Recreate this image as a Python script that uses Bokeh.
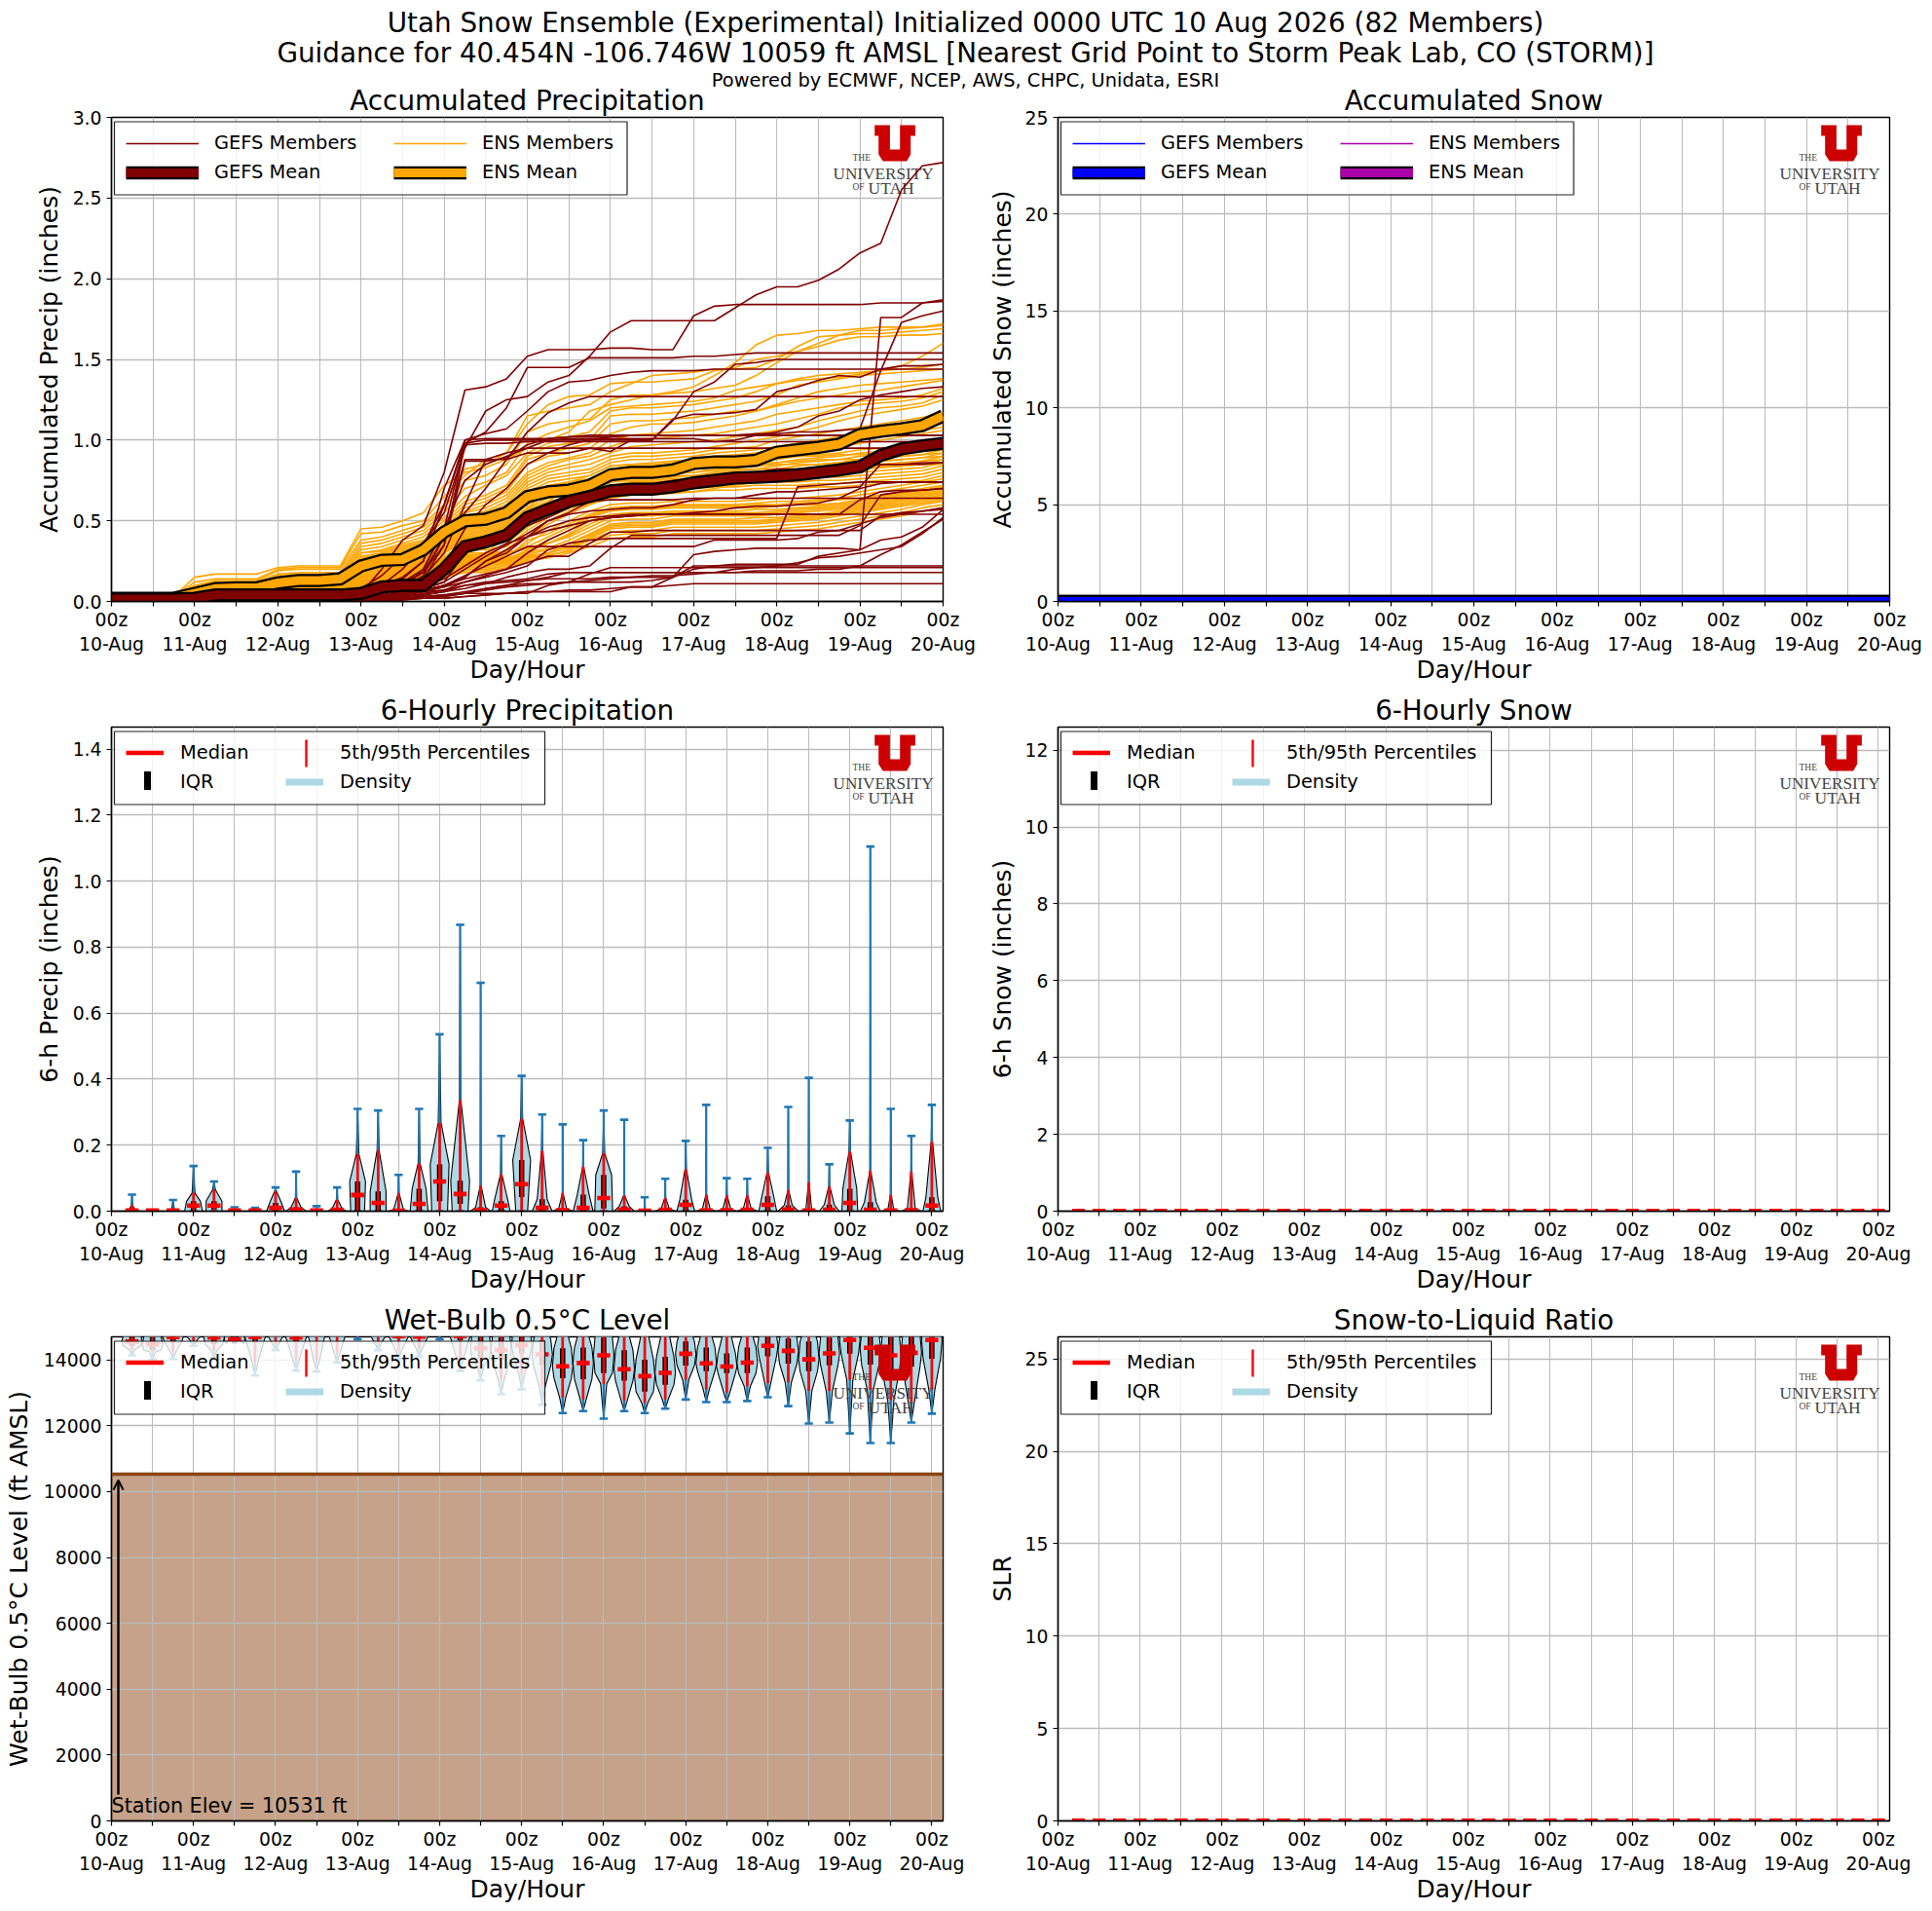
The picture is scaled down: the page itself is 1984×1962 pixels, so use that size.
from bokeh.embed import file_html
from bokeh.resources import INLINE
from bokeh.layouts import column, row
from bokeh.plotting import figure
from bokeh.models import (Range1d, FixedTicker, PrintfTickFormatter, Label, Legend, LegendItem,
                          BoxAnnotation, PolyAnnotation, Span, Arrow, OpenHead)

# ---------------- data ----------------
hours = list(range(0, 241, 6))
violin_hours = hours[1:]
tick_hours = list(range(0, 241, 12))
day_names = ["10-Aug","11-Aug","12-Aug","13-Aug","14-Aug","15-Aug","16-Aug","17-Aug","18-Aug","19-Aug","20-Aug"]

gefs_mean = [.015,.015,.015,.015,.02,.04,.04,.04,.04,.04,.04, .04,.05,.09,.10,.10,.20,.34,.37,.41,.52, .57,.62,.65,.685,.695,.695,.71,.735,.75,.765, .77,.775,.785,.80,.815,.835,.905,.945,.965,.98]
ens_mean = [.02,.02,.02,.02,.05,.08,.085,.085,.115,.13,.13, .14,.22,.255,.26,.32,.43,.50,.51,.55,.65, .68,.69,.72,.785,.80,.80,.815,.855,.865,.865, .875,.925,.94,.955,.975,1.035,1.055,1.07,1.09,1.15]

gefs_members = [
[0,0,0,0,0,1,1,1,1,1,1, 3,8,16,28,35,55,95,118,125,127, 136,140,152,167,174,174,174,174,174,182, 190,195,195,199,206,216,222,255,270,272],
[0,0,0,0,1,1,1,1,2,2,2, 3,5,20,38,47,80,131,133,138,152, 156,156,156,157,157,156,156,177,183,184, 184,184,184,184,184,184,185,185,185,186],
[0,0,0,0,1,1,1,1,1,1,1, 1,2,2,3,4,6,10,11,12,13, 14,14,14,15,15,15,15,29,31,32, 33,33,33,33,33,32,176,176,185,187],
[0,0,0,0,0,1,1,1,1,1,2, 2,3,4,6,10,22,45,60,70,85, 92,97,100,102,103,103,103,103,103,103, 104,104,105,105,106,107,143,173,177,180],
[0,0,0,0,1,2,2,2,2,2,2, 3,5,10,20,35,60,98,105,120,145, 145,145,151,151,151,151,151,152,152,153, 154,154,154,154,154,154,154,154,154,154],
[1,1,1,1,2,3,3,3,3,3,3, 3,4,5,8,20,45,98,100,100,100, 100,100,100,100,100,100,112,130,136,147, 148,150,150,150,150,150,150,150,150,150],
[0,0,0,0,1,1,1,1,1,1,2, 2,3,6,10,15,30,60,88,88,92, 92,92,95,93,100,100,113,116,116,117, 119,130,133,137,140,139,144,146,146,147],
[0,0,0,0,1,2,2,2,3,3,3, 4,6,8,14,25,70,100,104,107,118, 130,136,137,140,142,143,143,143,144,144, 144,144,144,144,144,144,144,144,144,144],
[0,0,0,0,0,1,1,1,1,1,1, 2,4,8,12,20,45,75,85,90,95, 100,101,101,101,101,101,101,101,99,100, 103,105,108,115,118,125,128,130,132,133],
[0,0,0,0,1,2,2,2,2,2,2, 3,5,7,12,18,40,55,70,88,105, 117,123,127,127,127,127,127,127,127,127, 127,127,127,127,127,127,127,127,127,127],
[1,1,1,1,2,3,3,3,3,3,3, 4,6,10,15,25,60,100,101,101,101, 101,102,102,102,103,103,103,103,103,103, 103,103,103,103,103,103,103,103,103,103],
[1,1,1,1,2,3,3,3,3,3,3, 3,4,6,10,18,35,97,98,98,99, 99,99,99,99,99,99,99,99,99,99, 99,99,99,99,99,99,99,99,99,99],
[0,0,0,0,1,1,1,1,1,1,1, 2,3,5,9,16,40,88,88,92,95, 95,95,95,95,95,95,95,95,95,95, 95,95,95,95,95,95,95,95,95,95],
[0,0,0,0,1,1,1,1,2,2,2, 2,3,4,6,9,14,22,30,36,40, 44,47,50,52,53,54,54,55,56,58, 59,59,60,61,64,70,73,74,74,74],
[0,0,0,0,0,1,1,1,1,1,1, 1,2,3,4,6,9,12,15,18,22, 32,36,38,39,39,39,39,39,39,39, 39,39,71,72,73,74,74,74,74,74],
[0,0,0,0,1,1,1,1,1,1,1, 2,2,3,4,6,10,15,25,32,40, 46,50,52,53,54,54,54,54,54,54, 54,54,54,54,54,63,68,69,69,70],
[0,0,0,0,1,2,2,2,2,2,2, 2,3,4,5,8,12,20,28,35,42, 50,54,56,57,58,58,60,63,64,64, 64,64,64,64,64,64,64,64,64,64],
[0,0,0,0,0,0,0,0,1,1,1, 1,2,3,5,7,10,14,17,20,30, 38,44,50,52,53,54,54,54,54,54, 54,54,54,54,54,54,54,54,54,54],
[0,0,0,0,0,1,1,1,1,1,1, 1,2,2,3,5,7,12,16,20,24, 28,28,36,43,43,44,44,44,44,44, 44,44,44,44,44,48,52,54,56,58],
[0,0,0,0,0,0,0,1,1,1,1, 1,1,2,2,3,3,5,8,10,13, 15,18,18,18,18,18,18,18,18,18, 19,19,19,20,20,22,29,35,43,51],
[0,0,0,0,0,0,0,0,0,0,0, 0,1,1,1,2,2,3,4,5,6, 6,6,6,6,9,9,15,20,22,23, 23,23,23,28,30,32,38,40,46,57],
[0,0,0,0,0,0,0,0,0,0,1, 1,1,2,2,3,4,5,5,5,5, 10,12,17,21,21,21,21,21,21,21, 21,21,21,21,21,21,21,21,21,21],
[0,0,0,0,0,1,1,1,1,1,1, 1,2,3,4,6,7,10,12,13,14, 17,18,18,18,18,18,18,18,18,18, 18,18,18,18,18,18,18,18,18,18],
[0,0,0,0,0,0,0,0,0,0,0, 0,0,1,1,2,2,3,4,5,6, 6,7,7,8,9,9,10,11,11,11, 11,11,11,11,11,11,11,11,11,11],
[0,0,0,0,0,0,0,0,0,1,1, 1,1,1,2,3,4,6,8,10,11, 11,12,12,12,12,13,15,22,22,22, 22,22,22,22,22,22,22,22,22,22],
[0,0,0,0,0,0,0,0,0,0,0, 1,1,1,2,2,3,5,7,9,10, 11,12,13,14,15,16,16,17,18,20, 21,22,24,27,28,30,32,34,42,52],
[0,0,0,0,0,1,1,1,1,1,1, 1,2,3,5,7,10,16,22,28,34, 34,34,34,34,34,34,34,34,38,38, 38,38,39,43,44,44,53,55,56,57],
[0,0,0,0,0,0,0,0,0,0,1, 1,1,2,3,4,6,8,11,15,18, 20,20,22,33,41,41,41,41,41,41, 41,41,41,41,41,47,66,68,69,70],
[0,0,0,0,0,1,1,1,1,1,1, 2,3,4,6,8,12,30,37,42,47, 52,58,65,72,73,73,75,76,77,78, 80,82,82,82,83,84,85,85,86,86],
[0,0,0,0,1,2,2,2,2,2,2, 3,4,6,9,14,35,87,87,89,97, 101,102,103,103,103,103,103,103,103,103, 103,103,103,103,103,103,103,103,103,103],
[0,0,0,0,0,0,1,1,1,1,1, 1,2,3,4,6,9,15,25,30,40, 50,55,62,63,63,63,63,64,64,64, 66,68,68,69,70,71,85,85,85,86],
]
ens_members = [
[3,3,3,3,15,17,17,17,21,22,22, 22,45,46,50,55,72,80,83,88,95, 100,105,118,122,125,128,130,133,140,148, 159,165,166,168,168,169,170,170,170,172],
[3,3,3,3,12,14,14,14,20,21,21, 21,42,43,47,50,65,78,88,92,110, 122,127,128,135,136,136,137,138,143,145, 150,152,155,160,165,168,168,169,170,171],
[3,3,3,3,10,13,13,13,19,20,20, 20,38,40,44,48,60,82,85,92,115, 118,120,122,130,135,140,141,142,144,144, 145,150,158,164,165,166,166,167,168,169],
[3,3,3,3,9,12,12,12,17,18,18, 18,36,38,42,46,58,75,78,85,105, 110,112,113,125,128,128,129,130,132,134, 140,148,155,158,162,164,164,165,165,166],
[3,3,3,3,8,11,11,11,16,17,17, 17,34,36,40,44,55,70,74,80,98, 104,108,112,120,121,122,123,124,126,131, 133,135,137,138,139,141,143,146,152,160],
[3,3,3,3,8,10,10,10,15,16,16, 16,32,34,38,42,52,65,72,78,92, 98,102,105,118,120,120,121,122,124,126, 130,135,138,140,141,142,143,144,145,147],
[3,3,3,3,7,10,10,10,14,15,15, 15,30,32,36,40,50,62,66,72,90, 96,98,100,115,116,116,117,118,120,122, 124,128,134,136,138,140,141,142,143,144],
[3,3,3,3,7,9,9,9,14,15,15, 15,30,31,35,38,48,60,64,70,88, 92,95,98,110,112,112,113,114,116,118, 118,122,126,130,132,134,135,136,137,138],
[3,3,3,3,7,9,9,9,13,14,14, 14,28,30,34,37,46,58,62,68,85, 90,92,95,104,108,110,110,111,113,115, 118,121,124,126,128,130,131,133,135,137],
[3,3,3,3,6,9,9,9,13,14,14, 14,27,29,33,36,45,56,60,66,80, 86,89,92,100,103,104,105,106,108,110, 112,116,118,120,122,124,125,126,128,132],
[3,3,3,3,6,8,8,8,12,13,13, 13,26,28,32,35,44,55,58,64,78, 84,88,90,96,100,101,102,103,104,106, 108,110,113,116,120,122,123,124,126,130],
[3,3,3,3,6,8,8,8,12,13,13, 13,25,27,31,34,43,53,56,62,76, 82,85,88,92,96,97,98,99,100,102, 104,106,108,112,115,118,120,121,123,128],
[3,3,3,3,6,8,8,8,11,12,12, 12,24,26,30,33,42,52,55,60,74, 80,83,85,90,92,92,93,94,96,98, 100,102,105,108,112,115,117,119,121,125],
[3,3,3,3,5,7,7,7,11,12,12, 12,23,25,29,32,41,50,53,58,72, 78,80,82,88,90,90,91,92,94,95, 96,100,102,104,106,108,110,112,114,117],
[3,3,3,3,5,7,7,7,10,11,11, 11,22,24,28,31,40,48,52,56,70, 76,78,80,86,88,88,89,90,92,93, 94,96,98,100,102,105,107,108,110,112],
[3,3,3,3,5,7,7,7,10,11,11, 11,21,23,27,30,39,47,50,54,68, 74,76,78,84,85,86,87,88,90,91, 92,94,96,98,100,103,105,106,108,110],
[3,3,3,3,5,6,6,6,10,11,11, 11,20,22,26,29,38,46,49,53,66, 72,74,76,82,84,84,85,86,88,89, 90,92,94,96,98,100,102,104,106,108],
[3,3,3,3,5,6,6,6,9,10,10, 10,20,22,25,28,37,45,48,52,64, 70,72,74,80,82,82,83,84,86,87, 88,90,92,94,96,98,100,102,104,106],
[3,3,3,3,4,6,6,6,9,10,10, 10,19,21,24,27,36,44,47,50,62, 68,70,72,78,80,80,81,82,84,85, 86,88,90,91,92,94,95,96,97,98],
[3,3,3,3,4,6,6,6,9,10,10, 10,18,20,24,27,35,43,46,49,60, 66,68,70,76,78,78,79,80,82,83, 84,86,88,89,90,92,93,94,95,96],
[3,3,3,3,4,6,6,6,8,9,9, 9,18,20,23,26,34,42,45,48,58, 64,66,68,74,76,76,77,78,80,81, 82,84,86,87,88,90,91,92,93,94],
[3,3,3,3,4,5,5,5,8,9,9, 9,17,19,23,26,33,41,44,47,57, 62,64,66,72,74,74,75,76,78,79, 80,82,84,85,86,88,89,90,91,92],
[3,3,3,3,4,5,5,5,8,9,9, 9,16,18,22,25,32,40,43,46,56, 60,62,64,70,72,72,73,74,76,77, 78,80,82,83,84,86,87,88,89,90],
[3,3,3,3,4,5,5,5,8,8,8, 8,16,18,22,25,31,39,42,45,55, 58,60,62,68,70,70,71,72,74,75, 76,78,80,81,82,84,85,86,87,88],
[3,3,3,3,4,5,5,5,7,8,8, 8,15,17,21,24,30,38,41,44,54, 57,59,61,66,68,68,69,70,72,73, 74,76,78,80,81,83,84,85,85,86],
[3,3,3,3,4,5,5,5,7,8,8, 8,15,17,21,24,30,37,40,43,52, 56,58,60,64,66,66,67,68,70,72, 74,76,78,79,80,82,83,84,85,85],
[2,2,2,3,4,4,4,4,7,7,7, 7,14,16,20,23,28,36,38,48,62, 70,74,78,84,85,85,86,86,87,88, 88,89,90,90,91,91,92,92,93,96],
[2,2,2,3,3,4,4,4,6,7,7, 7,13,15,19,22,27,30,33,44,58, 68,72,76,82,83,83,84,84,85,85, 86,86,87,88,88,88,89,90,91,94],
[2,2,2,3,3,4,4,4,6,7,7, 7,13,15,19,22,26,38,40,46,54, 62,70,74,80,81,81,82,82,83,84, 84,85,85,85,86,87,87,88,89,92],
[2,2,2,3,3,4,4,4,6,6,6, 6,12,14,18,21,26,35,36,42,52, 60,66,72,78,79,79,80,80,81,82, 82,82,82,83,84,84,85,86,87,90],
[2,2,2,3,3,4,4,4,6,6,6, 6,12,14,18,21,25,28,30,40,50, 58,64,70,76,77,77,78,78,79,80, 80,80,81,81,81,82,83,84,85,88],
[2,2,2,3,3,4,4,4,5,6,6, 6,12,13,17,20,25,33,33,38,48, 56,62,68,74,75,75,76,76,77,77, 78,78,79,79,80,80,81,82,83,86],
[2,2,2,3,3,4,4,4,5,6,6, 6,11,13,17,20,24,27,28,36,46, 54,60,66,72,73,73,74,74,75,75, 76,76,76,77,77,78,79,80,81,84],
[2,2,2,3,3,3,3,3,5,5,5, 5,11,13,16,19,24,32,32,34,44, 52,58,64,70,71,71,72,72,73,73, 74,74,74,75,75,76,77,78,79,82],
[2,2,2,3,3,3,3,3,5,5,5, 5,11,12,16,19,23,26,27,32,42, 50,56,62,68,69,69,70,70,71,71, 72,72,72,73,73,74,75,76,77,80],
[2,2,2,2,3,3,3,3,5,5,5, 5,10,12,15,18,23,30,30,31,40, 48,54,60,66,67,67,68,68,69,69, 70,70,70,71,71,72,73,74,75,78],
[2,2,2,2,3,3,3,3,4,5,5, 5,10,12,15,18,22,25,26,28,36, 44,50,56,60,61,61,62,62,62,62, 63,64,64,65,66,68,70,72,74,76],
[2,2,2,2,3,3,3,3,4,5,5, 5,10,11,15,17,22,24,25,27,38, 42,48,54,58,59,59,60,60,60,60, 61,62,62,63,64,66,68,70,72,74],
[2,2,2,2,3,3,3,3,4,4,4, 4,9,11,14,17,21,29,29,30,34, 40,46,53,57,58,58,59,59,59,59, 60,60,61,62,63,64,66,68,70,72],
[2,2,2,2,3,3,3,3,4,4,4, 4,9,11,14,16,21,24,24,26,32, 38,44,52,56,57,57,58,58,58,58, 58,59,60,60,61,63,65,67,69,71],
[2,2,2,2,2,3,3,3,4,4,4, 4,9,10,13,16,20,23,23,25,31, 36,42,50,54,55,55,56,56,56,56, 57,57,58,59,60,62,64,66,68,70],
[2,2,2,2,2,3,3,3,4,4,4, 4,8,10,13,15,20,28,28,29,33, 36,41,48,53,54,54,55,55,55,55, 55,56,57,58,59,61,63,65,67,69],
[2,2,2,2,2,3,3,3,3,4,4, 4,8,10,13,15,19,22,22,24,30, 36,40,46,52,53,53,54,54,54,54, 54,55,56,57,58,60,62,64,66,68],
[2,2,2,2,2,3,3,3,3,4,4, 4,8,9,12,14,19,27,27,27,30, 33,38,44,50,51,51,53,53,53,53, 53,54,55,56,57,59,61,63,65,67],
[2,2,2,2,2,2,2,2,3,3,3, 3,7,9,12,14,18,21,21,23,28, 30,36,42,48,49,49,51,51,51,51, 52,52,53,54,56,58,60,62,64,66],
[2,2,2,2,2,2,2,2,3,3,3, 3,7,9,12,14,18,26,26,26,29, 32,36,41,47,48,48,50,50,50,50, 50,51,52,53,55,57,59,61,63,65],
[2,2,2,2,2,2,2,2,3,3,3, 3,7,8,11,13,17,20,20,22,27, 30,34,40,46,47,47,49,49,49,49, 49,50,51,52,54,56,58,60,62,64],
[2,2,2,2,2,2,2,2,3,3,3, 3,6,8,11,13,17,25,25,25,28, 30,33,39,45,46,46,48,48,48,48, 48,49,50,51,53,55,57,59,61,63],
[2,2,2,2,2,2,2,2,2,3,3, 3,6,8,11,13,16,19,19,21,26, 28,32,38,43,44,44,46,46,46,46, 46,47,48,49,51,53,55,57,60,62],
[1,1,2,2,2,2,2,2,2,3,3, 3,6,7,10,12,16,24,24,24,27, 29,31,36,41,42,42,44,44,44,44, 44,45,46,47,49,51,53,55,58,60],
[1,1,2,2,2,2,2,2,2,3,3, 3,5,7,9,11,15,18,18,20,25, 27,30,34,39,40,40,42,42,42,42, 42,43,44,45,47,49,51,53,56,58],
]

prec_max = [.05,.003,.034,.137,.09,.012,.01,.072,.12,.015,.072,.31,.305,.11,.31,.536,.868,.692,.228,.41,.293,.263,.215,.305,.277,.042,.098,.213,.322,.10,.098,.192,.316,.404,.142,.275,1.105,.31,.228,.322]
prec_median = [.002,.002,.002,.017,.017,.002,.002,.01,.005,.002,.004,.049,.025,.001,.022,.09,.052,.003,.017,.082,.01,.003,.01,.04,.005,.001,.004,.019,.002,.003,.004,.019,.005,.002,.004,.025,.004,.002,.003,.017]
prec_q1 = [0,0,0,0,.005,0,0,0,0,0,0,0,0,0,0,.03,.022,0,0,.043,0,0,0,.008,0,0,0,0,0,0,0,0,0,0,0,0,0,0,0,0]
prec_q3 = [.004,.003,.003,.03,.03,.003,.003,.025,.012,.003,.008,.09,.06,.004,.068,.142,.092,.012,.03,.155,.036,.008,.05,.11,.015,.002,.008,.035,.006,.006,.008,.045,.018,.003,.02,.068,.027,.004,.008,.042]
prec_p95 = [.018,.003,.004,.055,.065,.005,.005,.06,.04,.004,.035,.173,.185,.055,.145,.268,.338,.078,.112,.28,.183,.055,.135,.175,.048,.004,.04,.127,.05,.048,.048,.117,.064,.088,.075,.18,.123,.05,.12,.21]
prec_base_width = [.8,.6,.6,.9,.8,.6,.6,.9,1,.5,.9,.7,.8,1,.9,.8,.8,1,.9,.6,1,1,1,.9,1,.6,1,.9,1,1,1,.9,1,1,1,.8,1,1,1,.9]
prec_q3_width = [.3,.4,.4,.7,.8,.4,.4,.6,.5,.3,.5,.8,.8,.5,.7,.95,.95,.5,.7,.9,.5,.4,.6,.8,.5,.3,.4,.6,.4,.4,.4,.6,.4,.3,.5,.7,.6,.3,.4,.6]
prec_p95_width = [.07,.15,.15,.14,.14,.07,.07,.1,.07,.07,.07,.13,.1,.04,.1,.14,.07,.04,.07,.1,.07,.03,.05,.1,.04,.07,.05,.07,.03,.04,.04,.07,.04,.03,.05,.08,.04,.04,.04,.07]

wb_min = [14140,14010,14040,14430,14060,14630,13530,14300,13680,13650,13920,14630,14300,14040,14100,14630,13670,13380,12960,13110,12640,12390,12450,12220,12450,12390,12520,12800,12720,12720,12755,12870,12600,12070,12100,11770,11480,11480,12100,12370]
wb_p5 = [14320,14250,14260,14580,14300,14720,13950,14480,14000,14000,14220,14800,14500,14300,14350,14800,14000,13800,13400,13600,13200,12860,12810,13280,12770,12700,12810,13400,13110,13010,13200,13300,13320,13060,13060,13400,13100,12770,12720,13110]
wb_q1 = [14430,14300,14560,14800,14480,14500,14550,14800,14550,14800,14800,14820,14800,14650,14700,14800,14600,14050,14000,14200,13850,13450,13420,13600,13370,13040,13250,13830,13660,13600,13600,14110,13890,13660,13840,14190,13860,13700,13800,14040]
wb_median = [14560,14480,14700,14900,14680,14630,14700,14950,14680,14950,14950,14950,14950,14730,14710,14950,14730,14360,14300,14450,14170,13810,13910,14140,13720,13510,13610,14190,13900,13800,13920,14430,14280,14020,14200,14610,14370,14140,14220,14610]
wb_q3 = [14750,14700,14950,15200,14950,14900,14950,15200,14950,15200,15200,15300,15200,15000,15000,15200,15000,14750,14700,14850,14600,14360,14380,14680,14300,14010,14100,14560,14380,14200,14380,14750,14650,14560,14680,14950,14800,14700,14760,14950]
wb_p95 = [15300,15250,15500,15700,15400,15300,15500,15700,15400,15700,15700,15800,15700,15500,15500,15700,15500,15300,15300,15400,15200,15000,15000,15200,14950,14850,14900,15100,15000,14900,15000,15300,15200,15100,15200,15500,15400,15200,15300,15500]
wb_max = [15600,15500,15800,16000,15700,15600,15800,16000,15700,16000,16000,16100,16000,15800,15800,16000,15800,15600,15600,15700,15500,15300,15300,15500,15300,15200,15200,15400,15300,15200,15300,15600,15500,15400,15500,15800,15700,15500,15600,15800]
wb_widths = [0, .3, .85, 1, .85, .3, 0]
station_elev = 10531

snow_gefs_mean = [0.0] * len(hours)
snow_ens_mean = [0.0] * len(hours)
snow6h_median = [0.0] * len(violin_hours)
slr_median = [0.0] * len(violin_hours)

title1 = "Utah Snow Ensemble (Experimental) Initialized 0000 UTC 10 Aug 2026 (82 Members)"
title2 = "Guidance for 40.454N -106.746W 10059 ft AMSL [Nearest Grid Point to Storm Peak Lab, CO (STORM)]"
title3 = "Powered by ECMWF, NCEP, AWS, CHPC, Unidata, ESRI"

for m in gefs_members + ens_members:
    assert len(m) == len(hours), m

# ---------------- style ----------------
FONT = "DejaVu Sans"
FW, FH = 854, 497
L_LEFT, L_RIGHT = 114, 40
R_LEFT, R_RIGHT = 78, 36
TOP, BOTTOM = 36, 93
GRID = "#bcbcbc"
XMAX_V = 243.3
MAROON, ORANGE, BLUE, MAGENTA = "#800000", "#ffa500", "#0000ff", "#aa00aa"
TAB_BLUE = "#1f77b4"

tick_labels = {}
for h in tick_hours:
    tick_labels[h] = f"00z\n{day_names[h // 24]}" if h % 24 == 0 else ""


def base_fig(title, ylabel, xmax, ymax, yticks, fmt, left, right, bottom=BOTTOM, ystandoff=6):
    p = figure(frame_width=FW, frame_height=FH, output_backend="svg", toolbar_location=None,
               x_range=Range1d(0, xmax), y_range=Range1d(0, ymax),
               min_border_left=left, min_border_right=right, min_border_top=TOP, min_border_bottom=bottom,
               background_fill_color="white", border_fill_color=None,
               x_axis_label="Day/Hour", y_axis_label=ylabel)
    p.title.text = title
    p.title.align = "center"
    p.title.text_font = FONT
    p.title.text_font_size = "27.8px"
    p.title.text_font_style = "normal"
    p.title.text_color = "black"
    p.title.standoff = 1
    p.title.offset = 0
    p.outline_line_color = "black"
    p.outline_line_width = 1.4
    p.outline_line_alpha = 1
    for ax in (p.xaxis[0], p.yaxis[0]):
        ax.axis_line_color = "black"
        ax.axis_line_width = 1.4
        ax.major_tick_line_color = "black"
        ax.major_tick_line_width = 1.2
        ax.major_tick_in = 0
        ax.major_tick_out = 5
        ax.minor_tick_line_color = None
        ax.major_label_text_font = FONT
        ax.major_label_text_font_size = "18.8px"
        ax.major_label_text_color = "black"
        ax.axis_label_text_font = FONT
        ax.axis_label_text_font_size = "25px"
        ax.axis_label_text_font_style = "normal"
        ax.axis_label_text_color = "black"
    p.xaxis[0].ticker = FixedTicker(ticks=tick_hours)
    p.xaxis[0].major_label_overrides = tick_labels
    p.xaxis[0].major_label_standoff = 3
    p.xaxis[0].major_label_text_line_height = 1.2
    p.xaxis[0].axis_label_standoff = -2
    p.yaxis[0].ticker = FixedTicker(ticks=yticks)
    p.yaxis[0].formatter = PrintfTickFormatter(format=fmt)
    p.yaxis[0].major_label_standoff = 5
    p.yaxis[0].axis_label_standoff = ystandoff
    p.xgrid[0].ticker = FixedTicker(ticks=tick_hours)
    p.ygrid[0].ticker = FixedTicker(ticks=yticks)
    p.xgrid[0].grid_line_color = GRID
    p.xgrid[0].grid_line_width = 1.1
    p.ygrid[0].grid_line_color = GRID
    p.ygrid[0].grid_line_width = 1.3
    return p


def sbox(p, l, r, t, b, **kw):
    p.add_layout(BoxAnnotation(left=l, right=r, top=FH - t, bottom=FH - b, left_units="screen", right_units="screen",
                               top_units="screen", bottom_units="screen", editable=False, **kw))


def logo(p, level="annotation"):
    x0, y0 = 783.7, 8.0
    ux = [0, 15.7, 15.7, 26, 26, 41.7, 41.7, 37, 37, 33, 8.5, 4, 4, 0]
    uy = [0, 0, 25, 25, 0, 0, 11, 11, 30, 37, 37, 30, 11, 11]
    p.add_layout(PolyAnnotation(xs=[x0 + v for v in ux], ys=[FH - y0 - v for v in uy], xs_units="screen", ys_units="screen",
                                fill_color="#cc0000", fill_alpha=1, line_color=None, editable=False, level=level))
    for text, x, y, size in (("THE", 761, 41, "9.5px"), ("UNIVERSITY", 741, 58, "17.2px"), ("OF", 761, 71, "9.5px"), ("UTAH", 777, 72, "17.5px")):
        p.add_layout(Label(x=x, y=FH - y, x_units="screen", y_units="screen", text=text, text_font="Liberation Serif",
                           text_font_size=size, text_color="#444444", text_baseline="middle", text_align="left", level=level))


def accum_legend(p, members1, members2, mean1, mean2, name1, name2, right):
    sbox(p, 3, right, 4.5, 79.5, fill_color="white", fill_alpha=.8, line_color="#222222", line_alpha=1, line_width=1.2)
    lg = Legend(items=[LegendItem(label=f"{name1} Members", renderers=[members1]),
                       LegendItem(label=f"{name1} Mean", renderers=mean1),
                       LegendItem(label=f"{name2} Members", renderers=[members2]),
                       LegendItem(label=f"{name2} Mean", renderers=mean2)],
                location="top_left", ncols=2, margin=15, padding=0, spacing=7, glyph_width=75, glyph_height=22,
                label_height=22, label_width=177, label_standoff=16, label_text_font=FONT, label_text_font_size="19.4px",
                label_text_color="black", background_fill_alpha=0, border_line_color=None)
    p.add_layout(lg)


def violin_legend(p):
    sbox(p, 3, 445, 4.5, 79.5, fill_color="white", fill_alpha=.8, line_color="#222222", line_alpha=1, line_width=1.2)
    nan = [float("nan"), float("nan")]
    med = p.line(nan, nan, line_color="red", line_width=4.5)
    iqr = p.line(nan, nan, line_alpha=0)
    pct = p.line(nan, nan, line_alpha=0)
    den = p.line(nan, nan, line_color="lightblue", line_width=7)
    lg = Legend(items=[LegendItem(label="Median", renderers=[med]), LegendItem(label="IQR", renderers=[iqr]),
                       LegendItem(label="5th/95th Percentiles", renderers=[pct]), LegendItem(label="Density", renderers=[den])],
                location="top_left", ncols=2, margin=15, padding=0, spacing=7, glyph_width=39, glyph_height=21,
                label_height=21, label_width=101, label_standoff=17, label_text_font=FONT, label_text_font_size="19.4px",
                label_text_color="black", background_fill_alpha=0, border_line_color=None)
    p.add_layout(lg)
    sbox(p, 33.5, 40.5, 45.5, 64.5, fill_color="black", fill_alpha=1, line_color=None)
    sbox(p, 198.8, 201.2, 13, 41, fill_color="red", fill_alpha=1, line_color=None)


def draw_accum(p, members1, members2, mean1, mean2, c1, c2):
    r2 = None
    for m in members2:
        r2 = p.line(hours, m, line_color=c2, line_width=1.6)
    r1 = None
    for m in members1:
        r1 = p.line(hours, m, line_color=c1, line_width=1.6)
    b2 = p.line(hours, mean2, line_color="black", line_width=13.5, line_join="miter")
    f2 = p.line(hours, mean2, line_color=c2, line_width=9, line_join="miter")
    b1 = p.line(hours, mean1, line_color="black", line_width=13.5, line_join="miter")
    f1 = p.line(hours, mean1, line_color=c1, line_width=9, line_join="miter")
    return r1, r2, [b1, f1], [b2, f2]


def draw_violins(p, xs_h, lows, q1s, meds, q3s, p5s, p95s, highs, outlines):
    p.patches(outlines[0], outlines[1], fill_color="lightblue", fill_alpha=1, line_color="black", line_width=1.1)
    p.segment(xs_h, lows, xs_h, highs, line_color=TAB_BLUE, line_width=2.2)
    p.segment([h - 1.2 for h in xs_h], highs, [h + 1.2 for h in xs_h], highs, line_color=TAB_BLUE, line_width=2.6)
    p.segment([h - 1.2 for h in xs_h], lows, [h + 1.2 for h in xs_h], lows, line_color=TAB_BLUE, line_width=2.6)
    p.segment(xs_h, q1s, xs_h, q3s, line_color="black", line_width=5.5)
    p.segment(xs_h, p5s, xs_h, p95s, line_color="red", line_width=2.6)
    p.segment([h - 1.9 for h in xs_h], meds, [h + 1.9 for h in xs_h], meds, line_color="red", line_width=4.6)


def outline(levels, widths, half, h):
    left = [h - half * w for w in widths]
    right = [h + half * w for w in widths]
    return left + right[::-1], levels + levels[::-1]


# ---------------- header ----------------
HH = 94
header = figure(width=1976, height=HH, x_axis_location=None, y_axis_location=None, output_backend="svg", margin=(0, 0, -10, 0),
                toolbar_location=None, min_border=0, outline_line_color=None, x_range=Range1d(0, 1), y_range=Range1d(0, 1))
header.grid.visible = False
for text, y, size in ((title1, 23, "27.8px"), (title2, 54, "27.8px"), (title3, 82, "19.4px")):
    header.add_layout(Label(x=991, y=HH - y, x_units="screen", y_units="screen", text=text, text_font=FONT, text_font_size=size,
                            text_align="center", text_baseline="middle", text_color="black"))

# ---------------- panel 1 ----------------
p1 = base_fig("Accumulated Precipitation", "Accumulated Precip (inches)", 240, 3.0, [0, .5, 1, 1.5, 2, 2.5, 3], "%.1f", L_LEFT, L_RIGHT, ystandoff=7)
logo(p1, "underlay")
r1, r2, m1, m2 = draw_accum(p1, [[v / 100 for v in m] for m in gefs_members], [[v / 100 for v in m] for m in ens_members],
                            gefs_mean, ens_mean, MAROON, ORANGE)
accum_legend(p1, r1, r2, m1, m2, "GEFS", "ENS", 529.5)

# ---------------- panel 2 ----------------
p2 = base_fig("Accumulated Snow", "Accumulated Snow (inches)", 240, 25, [0, 5, 10, 15, 20, 25], "%d", R_LEFT, R_RIGHT)
logo(p2)
r1, r2, m1, m2 = draw_accum(p2, [snow_gefs_mean], [snow_ens_mean], snow_gefs_mean, snow_ens_mean, BLUE, MAGENTA)
accum_legend(p2, r1, r2, m1, m2, "GEFS", "ENS", 529.5)

# ---------------- panel 3 ----------------
p3 = base_fig("6-Hourly Precipitation", "6-h Precip (inches)", XMAX_V, 1.467, [0, .2, .4, .6, .8, 1, 1.2, 1.4], "%.1f", L_LEFT, L_RIGHT, ystandoff=7)
vx, vy = [], []
for i, h in enumerate(violin_hours):
    lv = sorted([0, prec_q3[i], prec_p95[i], prec_max[i]])
    a, b = outline(lv, [prec_base_width[i], prec_q3_width[i], prec_p95_width[i], 0], 2.9, h)
    vx.append(a)
    vy.append(b)
draw_violins(p3, violin_hours, [0] * 40, prec_q1, prec_median, prec_q3, [0] * 40, prec_p95, prec_max, (vx, vy))
violin_legend(p3)
logo(p3)

# ---------------- panel 4 ----------------
p4 = base_fig("6-Hourly Snow", "6-h Snow (inches)", XMAX_V, 12.6, [0, 2, 4, 6, 8, 10, 12], "%d", R_LEFT, R_RIGHT)
p4.segment([h - 1.9 for h in violin_hours], snow6h_median, [h + 1.9 for h in violin_hours], snow6h_median, line_color="red", line_width=5)
violin_legend(p4)
logo(p4)

# ---------------- panel 5 ----------------
p5 = base_fig("Wet-Bulb 0.5\u00b0C Level", "Wet-Bulb 0.5\u00b0C Level (ft AMSL)", XMAX_V, 14704, [0, 2000, 4000, 6000, 8000, 10000, 12000, 14000], "%d", L_LEFT, L_RIGHT, bottom=85, ystandoff=8)
p5.quad(left=[0], right=[XMAX_V], bottom=[0], top=[station_elev], fill_color="saddlebrown", fill_alpha=.5, line_color=None, level="image")
p5.add_layout(Span(location=station_elev, dimension="width", line_color="saddlebrown", line_width=3.4))
vx, vy = [], []
for i, h in enumerate(violin_hours):
    lv = [wb_min[i], wb_p5[i], wb_q1[i], wb_median[i], wb_q3[i], wb_p95[i], wb_max[i]]
    a, b = outline(lv, wb_widths, 3.0, h)
    vx.append(a)
    vy.append(b)
draw_violins(p5, violin_hours, wb_min, wb_q1, wb_median, wb_q3, wb_p5, wb_p95, wb_max, (vx, vy))
p5.add_layout(Arrow(end=OpenHead(size=10, line_width=2, line_color="black"), x_start=2, y_start=800, x_end=2, y_end=10350,
                    line_color="black", line_width=2.4))
p5.add_layout(Label(x=0, y=100, text=f"Station Elev = {station_elev} ft", text_font=FONT, text_font_size="20.7px", text_color="black",
                    text_baseline="bottom", text_align="left"))
violin_legend(p5)
logo(p5)

# ---------------- panel 6 ----------------
p6 = base_fig("Snow-to-Liquid Ratio", "SLR", XMAX_V, 26.2, [0, 5, 10, 15, 20, 25], "%d", R_LEFT, R_RIGHT, bottom=85)
p6.segment([h - 1.9 for h in violin_hours], slr_median, [h + 1.9 for h in violin_hours], slr_median, line_color="red", line_width=5)
violin_legend(p6)
logo(p6)

page = column(header, row(p1, p2, spacing=0), row(p3, p4, spacing=0), row(p5, p6, spacing=0), spacing=0)
open("out.html", "w").write(file_html(page, INLINE))
